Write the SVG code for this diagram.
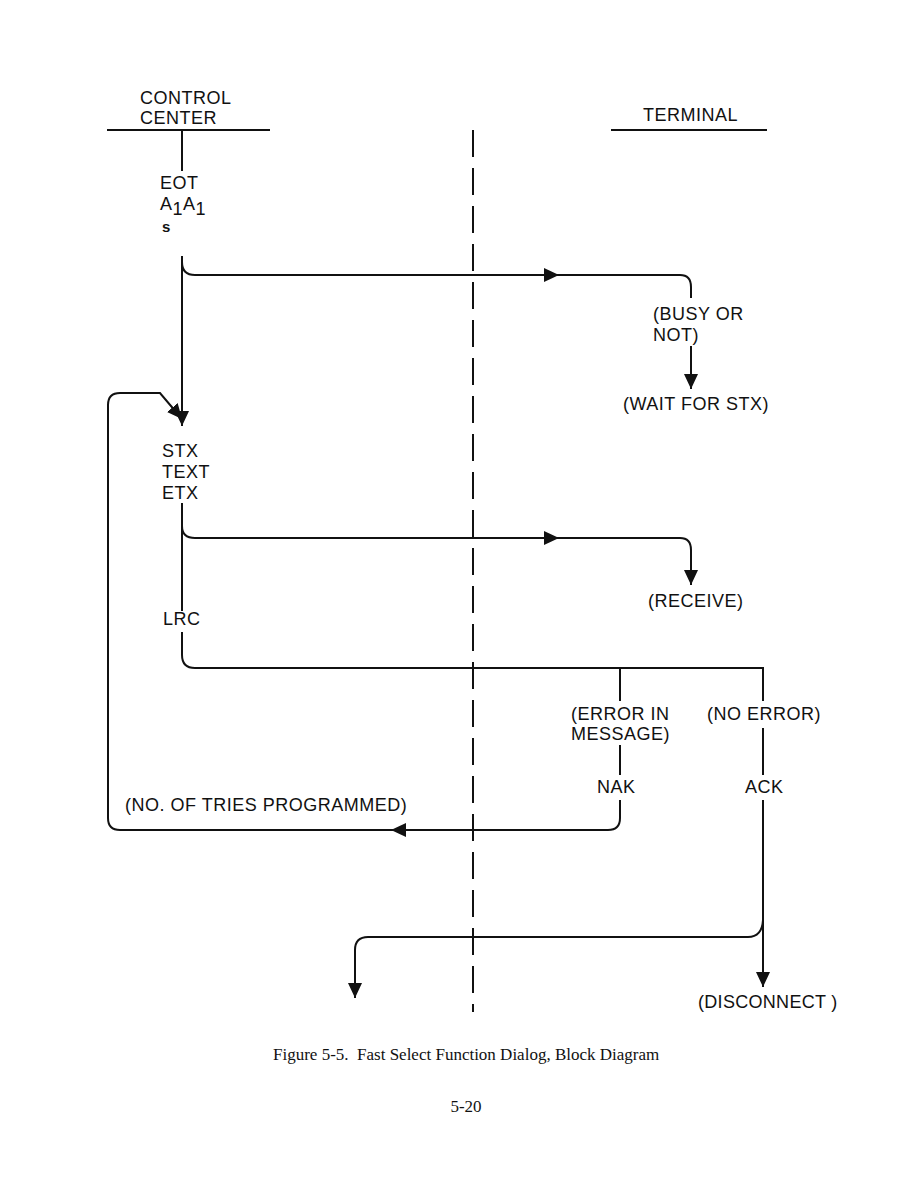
<svg xmlns="http://www.w3.org/2000/svg" width="923" height="1191" viewBox="0 0 923 1191">
<style>
.t{font-family:"Liberation Sans",Arial,sans-serif;font-size:18px;fill:#111;letter-spacing:0.5px}
.c{font-family:"Liberation Serif","Times New Roman",serif;font-size:17px;fill:#111}
.l{fill:none;stroke:#111;stroke-width:2}
.d{fill:none;stroke:#111;stroke-width:2;stroke-dasharray:27 11}
.a{fill:#111}
</style>
<defs>
<path id="ah" d="M0,0 L-15,-7 L-15,7 Z"/>
<marker id="me" viewBox="-15 -7 15 14" refX="0" refY="0" markerWidth="15" markerHeight="14" markerUnits="userSpaceOnUse" orient="auto"><path d="M0,0 L-15,-7 L-15,7 Z" fill="#111"/></marker>
</defs>
<rect width="923" height="1191" fill="#fff"/>
<g id="control-center">
<text class="t" x="140" y="104">CONTROL</text>
<text class="t" x="140" y="124">CENTER</text>
<line class="l" x1="107" y1="130" x2="270" y2="130"/>
</g>
<g id="terminal">
<text class="t" x="643" y="121">TERMINAL</text>
<line class="l" x1="611" y1="130" x2="767" y2="130"/>
</g>
<g id="divider"><line class="d" x1="473" y1="130" x2="473" y2="1012"/></g>
<g id="eot">
<text class="t" x="160" y="189">EOT</text>
<text class="t" x="160" y="210">A<tspan dy="5">1</tspan><tspan dy="-5">A</tspan><tspan dy="5">1</tspan></text>
<text class="t" x="162" y="232" style="font-size:15px;font-weight:bold">s</text>
</g>
<g id="busy"><text class="t" x="653" y="320">(BUSY OR</text><text class="t" x="653" y="341">NOT)</text></g>
<g id="wait"><text class="t" x="623" y="410">(WAIT FOR STX)</text></g>
<g id="stx"><text class="t" x="162" y="457">STX</text><text class="t" x="162" y="478">TEXT</text><text class="t" x="162" y="499">ETX</text></g>
<g id="receive"><text class="t" x="648" y="607">(RECEIVE)</text></g>
<g id="lrc"><text class="t" x="163" y="625">LRC</text></g>
<g id="error"><text class="t" x="571" y="720">(ERROR IN</text><text class="t" x="571" y="740">MESSAGE)</text></g>
<g id="noerror"><text class="t" x="707" y="720">(NO ERROR)</text></g>
<g id="nak"><text class="t" x="597" y="793">NAK</text></g>
<g id="ack"><text class="t" x="745" y="793">ACK</text></g>
<g id="tries"><text class="t" x="125" y="811">(NO. OF TRIES PROGRAMMED)</text></g>
<g id="disconnect"><text class="t" x="698" y="1008" style="letter-spacing:0.3px">(DISCONNECT )</text></g>
<g id="caption">
<text class="c" x="273" y="1060" xml:space="preserve">Figure 5-5.  Fast Select Function Dialog, Block Diagram</text>
<text class="c" x="466" y="1112" text-anchor="middle">5-20</text>
</g>
<g id="connectors">
<line class="l" x1="182" y1="130" x2="182" y2="171"/>
<path class="l" d="M182,256 V426" marker-end="url(#me)"/>
<path class="l" d="M182,262 Q182,275 195,275 H680 Q691,275 691,287 V298"/>
<use href="#ah" class="a" transform="translate(559,275)"/>
<path class="l" d="M691,346 V389" marker-end="url(#me)"/>
<path class="l" d="M108,818 V405 Q108,393 120,393 H160 L182,419" marker-end="url(#me)"/>
<path class="l" d="M182,503 V611"/>
<path class="l" d="M182,526 Q182,538 195,538 H680 Q691,538 691,550 V585" marker-end="url(#me)"/>
<use href="#ah" class="a" transform="translate(559,538)"/>
<path class="l" d="M182,632 V655 Q182,668 195,668 H763 V701"/>
<line class="l" x1="620" y1="668" x2="620" y2="701"/>
<line class="l" x1="620" y1="745" x2="620" y2="775"/>
<path class="l" d="M620,800 V818 Q620,830 608,830 H120 Q108,830 108,818"/>
<use href="#ah" class="a" transform="translate(391,830) rotate(180)"/>
<line class="l" x1="763" y1="728" x2="763" y2="775"/>
<path class="l" d="M763,800 V987" marker-end="url(#me)"/>
<path class="l" d="M763,920 Q762,937 748,937 H368 Q355,937 355,950 V998" marker-end="url(#me)"/>
</g>
</svg>
